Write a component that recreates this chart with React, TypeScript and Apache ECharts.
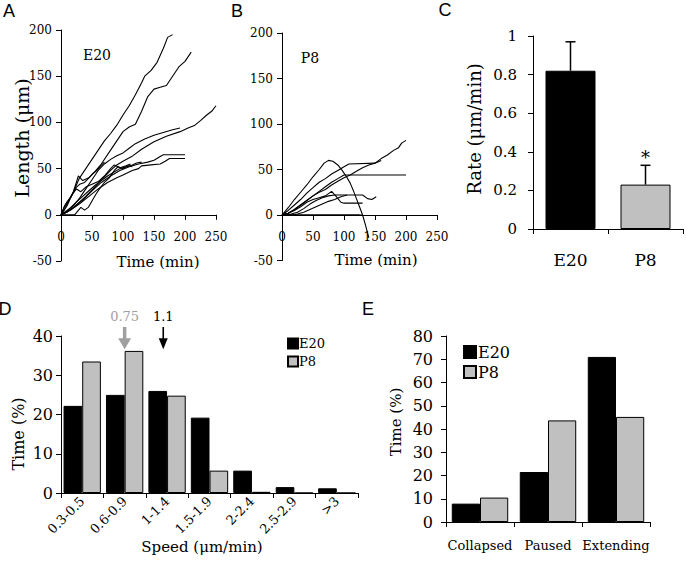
import React, { useEffect, useRef } from "react";
import * as echarts from "echarts";

// ---------- Panel A: E20 growth-cone traces (time min, length µm) ----------
const e20Track1 = [[0,0],[5,5],[10,12],[20,25],[30,40],[40,50],[50,60],[60,70],[70,80],[80,88],[90,97],[100,108],[110,118],[120,130],[130,143],[135,150],[145,156],[155,165],[165,180],[172,192],[180,195]];
const e20Track2 = [[0,0],[10,10],[20,25],[28,42],[35,37],[45,40],[55,47],[65,55],[80,70],[90,80],[100,90],[110,95],[120,98],[130,112],[140,128],[150,136],[160,138],[170,140],[180,150],[190,160],[200,166],[210,176]];
const e20Track3 = [[0,0],[10,3],[20,8],[30,14],[40,20],[50,27],[60,34],[70,41],[80,48],[90,54],[100,58],[114,63],[130,71],[150,79],[170,85],[192,90],[205,94],[216,97],[225,102],[235,108],[243,112],[250,118]];
const e20Track4 = [[0,0],[10,4],[20,10],[30,18],[40,28],[50,38],[60,48],[70,55],[80,60],[90,64],[100,67],[110,72],[120,77],[135,82],[150,86],[165,89],[180,92],[192,94]];
const e20Track5 = [[0,0],[10,3],[20,8],[35,16],[50,26],[65,35],[80,42],[95,48],[110,52],[125,55],[140,57],[150,59],[160,63],[165,65],[200,65]];
const e20Track6 = [[0,0],[15,5],[30,12],[45,20],[60,28],[75,35],[90,40],[100,43],[115,48],[125,50],[130,53],[145,54],[160,55],[168,58],[175,61],[200,61]];
const e20Track7 = [[0,0],[8,4],[16,8],[25,14],[35,20],[45,26],[55,32],[65,37],[75,42],[85,46],[95,50],[105,52],[115,54],[122,56],[130,57]];
const e20Track8 = [[0,0],[5,8],[10,14],[15,18],[20,24],[25,30],[30,33],[38,35],[45,40],[52,45],[58,48],[64,53],[70,57]];
const e20Track9 = [[0,0],[22,0],[27,4],[32,8],[38,5],[44,8],[50,15],[56,22],[62,28],[70,35],[78,40],[86,48],[92,52],[100,50],[108,53],[115,52]];
const e20Track10 = [[0,0],[6,10],[12,16],[18,22],[25,28],[32,25],[40,30],[50,33],[60,36],[70,42],[80,50],[86,54],[95,51],[105,53],[112,55]];
const e20Tracks = [e20Track1, e20Track2, e20Track3, e20Track4, e20Track5, e20Track6, e20Track7, e20Track8, e20Track9, e20Track10];

// ---------- Panel B: P8 traces ----------
const p8Track1 = [[0,0],[5,4],[10,8],[20,17],[30,25],[40,33],[50,42],[60,50],[68,57],[75,60],[82,59],[90,55],[97,49],[104,42],[110,35],[115,27],[120,18],[125,9],[130,0],[135,-12],[140,-25]];
const p8Track2 = [[0,0],[10,2],[20,6],[30,11],[40,16],[50,21],[60,25],[70,28],[80,33],[90,37],[100,41],[110,44],[120,48],[130,52],[140,55],[150,57],[160,62],[170,66],[180,71],[188,74],[193,79],[200,82]];
const p8Track3 = [[0,0],[10,5],[20,11],[30,17],[40,24],[50,30],[60,36],[70,40],[80,45],[90,49],[100,53],[108,56],[150,57],[160,60]];
const p8Track4 = [[0,0],[10,2],[20,6],[30,11],[40,16],[50,21],[60,26],[70,31],[80,36],[90,40],[100,44],[200,44]];
const p8Track5 = [[0,0],[10,2],[20,5],[30,9],[40,14],[50,17],[60,19],[70,21],[80,26],[88,20],[95,14],[100,13],[130,13]];
const p8Track6 = [[0,0],[15,1],[25,3],[35,7],[45,12],[55,16],[65,19],[75,21],[85,22],[130,22],[138,18],[145,17],[152,20]];
const p8Track7 = [[0,0],[15,0],[25,1],[35,3],[45,6],[55,9],[65,12],[75,15],[85,17],[95,20],[105,22]];
const p8Track8 = [[0,0],[130,0]];
const p8Track9 = [[0,0],[5,1],[10,0],[125,0]];
const p8Tracks = [p8Track1, p8Track2, p8Track3, p8Track4, p8Track5, p8Track6, p8Track7, p8Track8, p8Track9];

// ---------- Panel C: mean rate ----------
const rateGroups = ["E20", "P8"];
const rateMeans = [0.82, 0.23];
const rateErrors = [0.15, 0.10];
const rateSignif = ["", "*"];

// ---------- Panel D: speed distribution ----------
const speedBins = ["0.3-0.5", "0.6-0.9", "1-1.4", "1.5-1.9", "2-2.4", "2.5-2.9", ">3"];
const speedE20 = [22.2, 25.0, 26.0, 19.2, 5.7, 1.5, 1.2];
const speedP8 = [33.5, 36.2, 24.8, 5.7, 0.3, 0, 0];
const meanSpeedLabels = ["0.75", "1.1"];
const meanSpeedPos = [1.5, 2.41]; // position along the bin axis, in bin units
const meanSpeedColors = ["#a0a0a0", "#000000"];

// ---------- Panel E: state time ----------
const states = ["Collapsed", "Paused", "Extending"];
const stateE20 = [7.9, 21.5, 71.0];
const stateP8 = [10.5, 43.7, 45.2];

const serif = '"DejaVu Serif", serif';
const sans = '"Liberation Sans", Arial, sans-serif';
const GRAY = "#c0c0c0";

const axisLineStyle = { color: "#000", width: 1 };

function valueX(grid: number, fs: number, show = true) {
  return {
    gridIndex: grid, type: "value", min: 0, max: 250, interval: 50, show,
    axisLine: { show: true, onZero: false, lineStyle: axisLineStyle },
    axisTick: { show: true, length: 5, lineStyle: axisLineStyle },
    axisLabel: { color: "#000", fontFamily: serif, fontSize: fs, margin: 16 },
    splitLine: { show: false },
  };
}
function valueY(grid: number, min: number, max: number, interval: number, fs: number, margin: number, show = true) {
  return {
    gridIndex: grid, type: "value", min, max, interval, show,
    axisLine: { show: true, onZero: false, lineStyle: axisLineStyle },
    axisTick: { show: true, length: 5, lineStyle: axisLineStyle },
    axisLabel: { color: "#000", fontFamily: serif, fontSize: fs, margin },
    splitLine: { show: false },
  };
}
function catX(grid: number, data: string[], fs: number, margin: number, rotate = 0) {
  return {
    gridIndex: grid, type: "category", data,
    axisLine: { show: true, lineStyle: axisLineStyle },
    axisTick: { show: true, length: 5, alignWithLabel: false, lineStyle: axisLineStyle },
    axisLabel: { color: "#000", fontFamily: serif, fontSize: fs, margin, rotate, interval: 0 },
    splitLine: { show: false },
  };
}

function txt(text: string, x: number, y: number, size: number, family: string, rotation = 0, color = "#000") {
  return {
    type: "text", x, y, rotation, silent: true,
    style: {
      text, fill: color, fontSize: size, fontFamily: family,
      align: "center", verticalAlign: "middle",
      textAlign: "center", textVerticalAlign: "middle",
    },
  };
}

export default function App() {
  const ref = useRef<HTMLDivElement>(null);
  useEffect(() => {
    document.body.style.margin = "0";
    if (!ref.current) return;
    const chart = echarts.init(ref.current, undefined, { renderer: "svg" });

    const lineSeries = (tracks: number[][][], idx: number) =>
      tracks.map((t) => ({
        type: "line", xAxisIndex: idx, yAxisIndex: idx, data: t,
        showSymbol: false, symbol: "none", silent: true,
        lineStyle: { color: "#000", width: 1.1 },
      }));

    const option: any = {
      animation: false,
      backgroundColor: "#fff",
      grid: [
        { left: 61, top: 30, width: 155, height: 231 },
        { left: 282, top: 33, width: 155, height: 227.5 },
        { left: 533, top: 36, width: 150, height: 193 },
        { left: 61, top: 336, width: 297, height: 157 },
        { left: 446, top: 336, width: 204, height: 186 },
        // time axes of A and B, lying on length = 0
        { left: 61, top: 30, width: 155, height: 184.8 },
        { left: 282, top: 33, width: 155, height: 182 },
      ],
      xAxis: [
        valueX(0, 12, false),
        valueX(1, 12, false),
        catX(2, rateGroups, 17, 22),
        catX(3, speedBins, 13, 6, 45),
        catX(4, states, 13, 17),
        valueX(5, 12),
        valueX(6, 12),
      ],
      yAxis: [
        valueY(0, -50, 200, 50, 12, 9),
        valueY(1, -50, 200, 50, 12, 9),
        valueY(2, 0, 1, 0.2, 15, 16),
        valueY(3, 0, 40, 10, 16, 8),
        valueY(4, 0, 80, 10, 16, 13),
        valueY(5, 0, 200, 50, 12, 9, false),
        valueY(6, 0, 200, 50, 12, 9, false),
      ],
      legend: [
        {
          data: ["E20", "P8"], orient: "vertical", left: 287, top: 337, padding: 0,
          itemWidth: 10, itemHeight: 10, itemGap: 5, icon: "rect", selectedMode: false,
          textStyle: { fontFamily: serif, fontSize: 13, color: "#000", padding: [0, 0, 0, -4] },
        },
        {
          data: ["E20", "P8"], orient: "vertical", left: 463, top: 344, padding: 0,
          itemWidth: 12, itemHeight: 12, itemGap: 4, icon: "rect", selectedMode: false,
          textStyle: { fontFamily: serif, fontSize: 16, color: "#000", padding: [0, 0, 0, -3] },
        },
      ],
      series: [
        ...lineSeries(e20Tracks, 0),
        ...lineSeries(p8Tracks, 1),
        {
          type: "bar", xAxisIndex: 2, yAxisIndex: 2, barWidth: 50,
          data: rateMeans.map((v, i) => ({ value: v, itemStyle: { color: i === 0 ? "#000" : GRAY } })),
          itemStyle: { borderColor: "#000", borderWidth: 1 },
        },
        {
          type: "custom", xAxisIndex: 2, yAxisIndex: 2, clip: false, z: 5,
          data: rateMeans.map((m, i) => [i, m, rateErrors[i]]),
          renderItem: (params: any, api: any) => {
            const i = api.value(0);
            const m = api.value(1);
            const e = api.value(2);
            const base = api.coord([i, m]);
            const top = api.coord([i, m + e]);
            const cap = 5;
            const ls = { stroke: "#000", lineWidth: 1.5 };
            return {
              type: "group",
              children: [
                { type: "line", shape: { x1: base[0], y1: base[1], x2: top[0], y2: top[1] }, style: ls },
                { type: "line", shape: { x1: top[0] - cap, y1: top[1], x2: top[0] + cap, y2: top[1] }, style: ls },
                {
                  type: "text", x: top[0], y: top[1] - 8,
                  style: {
                    text: rateSignif[params.dataIndex], fill: "#000", fontSize: 18, fontFamily: serif,
                    align: "center", verticalAlign: "middle", textAlign: "center", textVerticalAlign: "middle",
                  },
                },
              ],
            };
          },
        },
        {
          type: "bar", name: "E20", xAxisIndex: 3, yAxisIndex: 3, data: speedE20,
          barGap: "0%", barCategoryGap: "12%",
          itemStyle: { color: "#000", borderColor: "#000", borderWidth: 1 },
        },
        {
          type: "bar", name: "P8", xAxisIndex: 3, yAxisIndex: 3, data: speedP8,
          barGap: "0%", barCategoryGap: "12%",
          itemStyle: { color: GRAY, borderColor: "#000", borderWidth: 1 },
        },
        {
          type: "custom", xAxisIndex: 3, yAxisIndex: 3, clip: false, z: 5,
          data: meanSpeedPos.map(() => [0, 0]),
          renderItem: (params: any, api: any) => {
            const i = params.dataIndex;
            const bw = api.size([1, 0])[0];
            const x0 = api.coord([0, 0])[0] - bw / 2;
            const x = x0 + meanSpeedPos[i] * bw;
            const yTop = api.coord([0, 42.3])[1];
            const yTip = api.coord([0, 36.6])[1];
            const color = meanSpeedColors[i];
            const shaft = i === 0 ? 3.5 : 1.6;
            const headW = i === 0 ? 13 : 9;
            const headL = 11;
            return {
              type: "group",
              children: [
                { type: "rect", shape: { x: x - shaft / 2, y: yTop, width: shaft, height: yTip - headL - yTop + 1 }, style: { fill: color } },
                { type: "polygon", shape: { points: [[x - headW / 2, yTip - headL], [x + headW / 2, yTip - headL], [x, yTip]] }, style: { fill: color } },
                {
                  type: "text", x, y: yTop - 10,
                  style: {
                    text: meanSpeedLabels[i], fill: color, fontSize: 13, fontFamily: serif,
                    align: "center", verticalAlign: "middle", textAlign: "center", textVerticalAlign: "middle",
                  },
                },
              ],
            };
          },
        },
        {
          type: "bar", name: "E20", xAxisIndex: 4, yAxisIndex: 4, data: stateE20,
          barGap: "0%", barCategoryGap: "17%",
          itemStyle: { color: "#000", borderColor: "#000", borderWidth: 1 },
        },
        {
          type: "bar", name: "P8", xAxisIndex: 4, yAxisIndex: 4, data: stateP8,
          barGap: "0%", barCategoryGap: "17%",
          itemStyle: { color: GRAY, borderColor: "#000", borderWidth: 1 },
        },
      ],
      graphic: [
        txt("A", 9, 11, 18, sans),
        txt("B", 237, 11, 18, sans),
        txt("C", 445, 10, 18, sans),
        txt("D", 5, 309, 18, sans),
        txt("E", 368, 309, 18, sans),
        txt("Length (μm)", 22, 138, 19, serif, Math.PI / 2),
        txt("Time (min)", 158, 262, 15, serif),
        txt("E20", 97, 55, 14, serif),
        txt("Time (min)", 376, 260, 15, serif),
        txt("P8", 310, 58, 14, serif),
        txt("Rate (μm/min)", 474, 129, 18, serif, Math.PI / 2),
        txt("Time (%)", 18, 434, 16, serif, Math.PI / 2),
        txt("Speed (μm/min)", 202, 547, 15, serif),
        txt("Time (%)", 396, 422, 15, serif, Math.PI / 2),
      ],
    };
    chart.setOption(option);
    return () => chart.dispose();
  }, []);
  return <div ref={ref} style={{ width: 686, height: 562 }} />;
}
